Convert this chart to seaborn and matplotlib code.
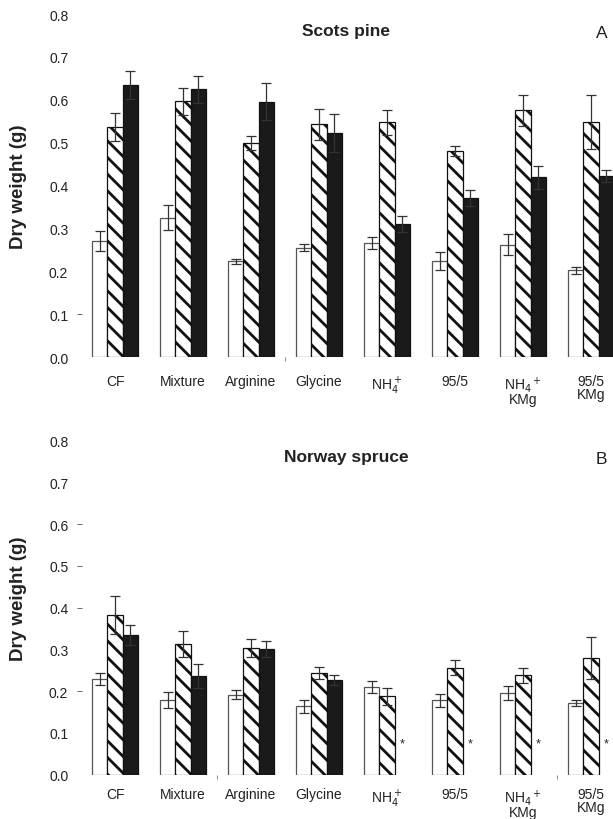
"""
Dry weight of Scots pine and Norway spruce seedlings under different N sources.
Two stacked grouped bar panels (A, B) with SE error bars.
"""

import numpy as np
import pandas as pd
import matplotlib
matplotlib.use("Agg")
import matplotlib.pyplot as plt
import seaborn as sns

# ── Data ──────────────────────────────────────────────────────────────────────

CATEGORIES = ["CF", "Mixture", "Arginine", "Glycine", "NH$_4^+$", "95/5",
              "NH$_4$$^+$\nKMg", "95/5\nKMg"]
SERIES = ["white", "hatch", "black"]

PINE_WHITE = [0.270, 0.325, 0.223, 0.255, 0.266, 0.224, 0.262, 0.202]
PINE_HATCH = [0.536, 0.596, 0.499, 0.543, 0.547, 0.480, 0.575, 0.548]
PINE_BLACK = [0.635, 0.624, 0.595, 0.523, 0.311, 0.371, 0.419, 0.423]
PINE_WHITE_SE = [0.023, 0.029, 0.006, 0.008, 0.013, 0.022, 0.024, 0.009]
PINE_HATCH_SE = [0.033, 0.031, 0.017, 0.036, 0.029, 0.012, 0.037, 0.064]
PINE_BLACK_SE = [0.033, 0.032, 0.043, 0.044, 0.019, 0.019, 0.027, 0.014]

SPRUCE_WHITE = [0.229, 0.179, 0.192, 0.164, 0.210, 0.178, 0.196, 0.172]
SPRUCE_HATCH = [0.382, 0.313, 0.303, 0.244, 0.188, 0.256, 0.238, 0.279]
SPRUCE_BLACK = [0.335, 0.236, 0.301, 0.226, np.nan, np.nan, np.nan, np.nan]
SPRUCE_WHITE_SE = [0.014, 0.018, 0.010, 0.016, 0.014, 0.016, 0.016, 0.008]
SPRUCE_HATCH_SE = [0.045, 0.032, 0.021, 0.014, 0.020, 0.018, 0.018, 0.050]
SPRUCE_BLACK_SE = [0.024, 0.029, 0.019, 0.012, np.nan, np.nan, np.nan, np.nan]

Y_TICKS = [0.0, 0.1, 0.2, 0.3, 0.4, 0.5, 0.6, 0.7, 0.8]

# ── Style ─────────────────────────────────────────────────────────────────────

FONT = ["Liberation Sans", "DejaVu Sans"]
FACE = {"white": "white", "hatch": "white", "black": "#1a1a1a"}
EDGE = {"white": "#555555", "hatch": "#111111", "black": "#111111"}
HATCH = {"white": None, "hatch": "\\\\", "black": None}
BAR_WIDTH = 0.675          # whole group width -> 0.225 per bar
TEXT_COLOR = "#222222"

sns.set_style("white")
plt.rcParams["font.family"] = FONT
plt.rcParams["hatch.linewidth"] = 2.0


def make_frame(white, hatch, black, white_se, hatch_se, black_se):
    rows = []
    for s, vals, ses in zip(SERIES, [white, hatch, black],
                            [white_se, hatch_se, black_se]):
        for c, v, e in zip(CATEGORIES, vals, ses):
            rows.append({"cat": c, "series": s, "value": v, "se": e})
    return pd.DataFrame(rows)


def draw_panel(ax, df, title, letter, shown_yticks, shown_xminor, ylab_y,
               xpad):
    sns.barplot(data=df.dropna(subset=["value"]), x="cat", y="value",
                hue="series", order=CATEGORIES, hue_order=SERIES,
                width=BAR_WIDTH, errorbar=None, legend=False, ax=ax,
                linewidth=0.9, saturation=1)

    # style bars and add error bars from the containers seaborn made
    offsets = {}
    for s, cont in zip(SERIES, ax.containers):
        sub = df[df["series"] == s].set_index("cat")
        for p in cont.patches:
            p.set_facecolor(FACE[s])
            p.set_edgecolor(EDGE[s])
            if HATCH[s]:
                p.set_hatch(HATCH[s])
            xc = p.get_x() + p.get_width() / 2
            idx = int(round(xc))
            offsets[s] = xc - idx
            se = sub.loc[CATEGORIES[idx], "se"]
            ax.errorbar(xc, p.get_height(), yerr=se, fmt="none",
                        ecolor="#333333", elinewidth=0.9, capsize=3.6,
                        capthick=0.9, zorder=3)

    # asterisks where the black series is missing
    missing = df[(df["series"] == "black") & df["value"].isna()]
    black_off = offsets["hatch"] + (offsets["hatch"] - offsets["white"])
    for c in missing["cat"]:
        ax.text(CATEGORIES.index(c) + black_off, 0.075, "*", ha="center",
                va="center", fontsize=9, color=TEXT_COLOR)

    ax.set_xlim(-0.485, 7.324)
    ax.set_ylim(0, 0.8)
    ax.set_yticks(Y_TICKS)
    ax.set_yticklabels([f"{t:.1f}" for t in Y_TICKS])
    for spine in ax.spines.values():
        spine.set_visible(False)

    ax.tick_params(axis="y", which="major", left=True, length=3.5, width=0.6,
                   color="#555555", pad=6.5, labelsize=10,
                   labelcolor=TEXT_COLOR)
    for t, tick in zip(Y_TICKS, ax.yaxis.get_major_ticks()):
        tick.tick1line.set_visible(t in shown_yticks)

    ax.tick_params(axis="x", which="major", bottom=False, length=0, pad=xpad,
                   labelsize=10, labelcolor=TEXT_COLOR)
    for lab in ax.get_xticklabels():
        lab.set_linespacing(0.85)
    ax.set_xticks(np.arange(len(CATEGORIES) - 1) + 0.5, minor=True)
    ax.tick_params(axis="x", which="minor", bottom=True, length=3, width=0.6,
                   color="#777777")
    for pos, tick in zip(np.arange(len(CATEGORIES) - 1) + 0.5,
                         ax.xaxis.get_minor_ticks()):
        tick.tick1line.set_visible(pos in shown_xminor)

    ax.set_xlabel("")
    ax.set_ylabel("Dry weight (g)", fontsize=13.5, fontweight="bold",
                  color=TEXT_COLOR)
    ax.yaxis.set_label_coords(-0.103, ylab_y)
    ax.text(0.497, 0.952, title, transform=ax.transAxes, ha="center",
            va="center", fontsize=12.5, fontweight="bold", color=TEXT_COLOR)
    ax.text(0.979, 0.947, letter, transform=ax.transAxes, ha="center",
            va="center", fontsize=12.5, color=TEXT_COLOR)


pine = make_frame(PINE_WHITE, PINE_HATCH, PINE_BLACK,
                  PINE_WHITE_SE, PINE_HATCH_SE, PINE_BLACK_SE)
spruce = make_frame(SPRUCE_WHITE, SPRUCE_HATCH, SPRUCE_BLACK,
                    SPRUCE_WHITE_SE, SPRUCE_HATCH_SE, SPRUCE_BLACK_SE)

fig = plt.figure(figsize=(6.13, 8.2), dpi=100, facecolor="white")
ax_a = fig.add_axes([0.134, 0.5634, 0.866, 0.4183])
ax_b = fig.add_axes([0.134, 0.054, 0.866, 0.4073])

draw_panel(ax_a, pine, "Scots pine", "A", [0.1], [2.5], 0.50, 12.5)
draw_panel(ax_b, spruce, "Norway spruce", "B", [0.2, 0.4, 0.5, 0.6],
           [1.5, 6.5], 0.53, 9.0)

fig.savefig("out.png", dpi=100, facecolor="white")
